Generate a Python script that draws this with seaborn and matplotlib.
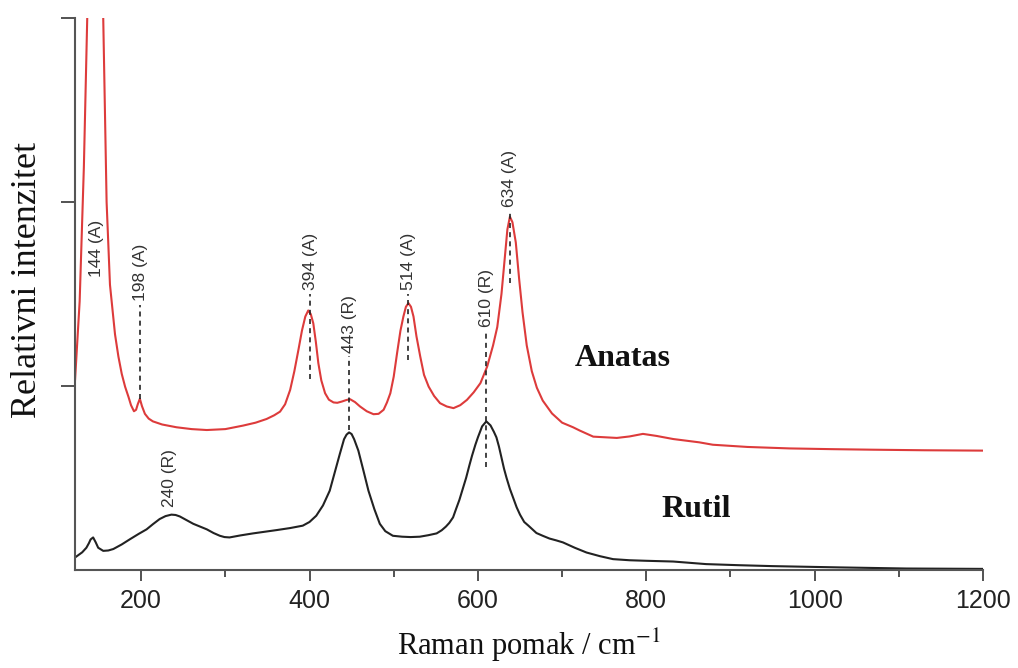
import numpy as np
import pandas as pd
import matplotlib
matplotlib.use("Agg")
import matplotlib.pyplot as plt
import seaborn as sns

# Ramanski spektri TiO2 (vrijednosti očitane sa slike)
anatas_x = [121.5, 127, 132, 136, 139, 142, 145, 148, 151, 155, 159, 163, 169, 173, 177,
            181, 185, 188, 191.5, 194, 196, 198.5, 201, 204.5, 209, 214, 225, 242, 260, 278,
            300, 321, 336, 349, 358, 365, 371, 377, 382, 387, 391, 395, 398.5, 401.5, 404.5,
            407.5, 410.5, 414, 418.5, 423, 428.5, 433, 438.5, 443, 448, 454, 460, 468, 476,
            482, 488, 492, 496, 500, 504, 508, 511.5, 514.5, 517.5, 520.5, 523.5, 527, 531.5,
            536, 541.5, 548, 555, 563, 571, 579, 587, 595, 603, 611, 618, 623, 628, 632,
            635, 638, 641, 645, 649, 653, 658, 664, 670, 677, 688, 700, 713, 721, 737, 753,
            765, 780, 796, 812, 832, 863, 879, 920, 970, 1020, 1069, 1130, 1200]
anatas_y = [1.03, 1.46, 2.19, 3.0, 3.8, 4.4, 4.6, 4.4, 3.8, 3.0, 2.0, 1.55, 1.28, 1.16, 1.065,
            0.995, 0.94, 0.895, 0.862, 0.87, 0.9, 0.93, 0.89, 0.848, 0.822, 0.807, 0.79, 0.775, 0.765, 0.76,
            0.765, 0.784, 0.8, 0.82, 0.84, 0.86, 0.9, 0.978, 1.08, 1.2, 1.3, 1.377, 1.41, 1.39, 1.34,
            1.24, 1.123, 1.03, 0.96, 0.925, 0.91, 0.908, 0.915, 0.922, 0.928, 0.912, 0.888, 0.862, 0.846,
            0.848, 0.87, 0.91, 0.96, 1.05, 1.178, 1.3, 1.377, 1.43, 1.45, 1.43, 1.377, 1.27, 1.16,
            1.06, 0.996, 0.945, 0.906, 0.888, 0.879, 0.895, 0.924, 0.965, 1.015, 1.105, 1.22, 1.32, 1.5, 1.7,
            1.85, 1.92, 1.89, 1.78, 1.58, 1.40, 1.22, 1.08, 0.99, 0.92, 0.85, 0.80, 0.775, 0.757, 0.724, 0.72,
            0.717, 0.725, 0.739, 0.728, 0.711, 0.693, 0.68, 0.668, 0.66, 0.656, 0.653, 0.65, 0.648]

rutil_x = [121.5, 130, 135, 138, 140, 143, 146, 149, 155, 161, 167, 177, 187, 197, 206.5,
           214, 222, 229, 236, 241, 246, 254, 262, 270, 278, 286, 293.5, 299, 305, 318, 333,
           347, 361, 377, 392, 400, 408, 416, 424, 430, 436, 441, 444, 447, 450, 453, 458,
           464, 470, 477, 483.5, 490, 499, 510, 520, 531, 541, 551, 557, 562, 566, 570.5,
           574, 578, 582, 586, 590, 593, 597, 600, 605, 610, 615, 619, 622, 625, 628, 631,
           634, 638, 642, 646, 650, 655, 660, 669.5, 677, 685, 693, 701, 715, 729, 745,
           760.5, 780, 800, 832, 871, 910, 950, 1030, 1109, 1200]
rutil_y = [0.067, 0.095, 0.12, 0.145, 0.165, 0.176, 0.15, 0.12, 0.103, 0.105, 0.113, 0.138, 0.167,
           0.195, 0.22, 0.248, 0.276, 0.292, 0.30, 0.298, 0.29, 0.27, 0.25, 0.235, 0.22, 0.2, 0.185,
           0.178, 0.176, 0.187, 0.198, 0.207, 0.216, 0.227, 0.24, 0.26, 0.294, 0.35, 0.43, 0.53, 0.63,
           0.71, 0.735, 0.747, 0.738, 0.71, 0.648, 0.54, 0.43, 0.33, 0.25, 0.21, 0.185, 0.18, 0.178,
           0.18, 0.188, 0.198, 0.215, 0.235, 0.255, 0.285, 0.33, 0.38, 0.44, 0.50, 0.57, 0.62, 0.68,
           0.72, 0.78, 0.807, 0.785, 0.75, 0.72, 0.67, 0.61, 0.55, 0.50, 0.44, 0.39, 0.34, 0.30, 0.26,
           0.24, 0.20, 0.185, 0.17, 0.16, 0.149, 0.12, 0.094, 0.074, 0.058, 0.052, 0.049, 0.045, 0.031,
           0.025, 0.02, 0.013, 0.007, 0.005]

# oznake vrpci: tekst i položaj na x osi
peak_labels = ["144 (A)", "198 (A)", "394 (A)", "443 (R)", "514 (A)", "610 (R)", "634 (A)", "240 (R)"]
peak_pos = [147, 199, 401, 447, 517, 610, 638, 234]

sns.set_style("ticks")
plt.rcParams["font.family"] = ["Liberation Sans", "DejaVu Sans"]
plt.rcParams["mathtext.fontset"] = "stix"

df = pd.concat([
    pd.DataFrame({"x": anatas_x, "y": anatas_y, "uzorak": "Anatas"}),
    pd.DataFrame({"x": rutil_x, "y": rutil_y, "uzorak": "Rutil"}),
])

fig = plt.figure(figsize=(10.18, 6.68), dpi=100)
ax = fig.add_axes([0.0737, 0.147, 0.892, 0.826])

sns.lineplot(data=df, x="x", y="y", hue="uzorak", estimator=None, sort=False,
             palette={"Anatas": "#dd3b3b", "Rutil": "#222222"}, linewidth=1.5,
             legend=False, ax=ax)

# isprekidane linije i tekst: (vrh linije, dno linije, dno teksta)
layout = {
    "144 (A)": (None, None, 1.59),
    "198 (A)": (1.44, 0.93, 1.46),
    "394 (A)": (1.50, 1.04, 1.52),
    "443 (R)": (1.16, 0.76, 1.18),
    "514 (A)": (1.50, 1.14, 1.52),
    "610 (R)": (1.30, 0.56, 1.32),
    "634 (A)": (1.95, 1.56, 1.97),
    "240 (R)": (None, None, 0.34),
}
for lab, xp in zip(peak_labels, peak_pos):
    top, bot, ty = layout[lab]
    if top is not None:
        ax.plot([xp, xp], [bot, top], color="#222222", lw=1.2, ls=(0, (3, 2.5)))
    ax.text(xp, ty, lab, rotation=90, ha="center", va="bottom", fontsize=12.5,
            color="#333333")

ax.text(772, 1.15, "Anatas", family="Liberation Serif", fontweight="bold",
        fontsize=23, ha="center", va="center", color="#111111")
ax.text(859, 0.33, "Rutil", family="Liberation Serif", fontweight="bold",
        fontsize=23, ha="center", va="center", color="#111111")

ax.set_xlim(121.5, 1200)
ax.set_ylim(0, 3)
ax.set_xticks(range(200, 1201, 200))
ax.set_xticks(range(300, 1200, 200), minor=True)
ax.set_yticks([1, 2, 3])
ax.set_yticklabels([])
ax.tick_params(axis="x", which="major", length=8, width=1.3, color="#444444",
               labelsize=18, pad=6, labelcolor="#222222")
ax.tick_params(axis="x", which="minor", length=5, width=1.3, color="#444444")
ax.tick_params(axis="y", length=10, width=1.3, color="#444444")

sns.despine(ax=ax)
for s in ["left", "bottom"]:
    ax.spines[s].set_color("#555555")
    ax.spines[s].set_linewidth(1.5)

ax.set_xlabel("Raman pomak / cm$^{-1}$", family="Liberation Serif", fontsize=22,
              labelpad=10, color="#111111")
ax.set_ylabel("Relativni intenzitet", family="Liberation Serif", fontsize=26,
              color="#111111")
ax.yaxis.set_label_coords(-0.034, 0.525)

fig.savefig("out.png", dpi=100)
